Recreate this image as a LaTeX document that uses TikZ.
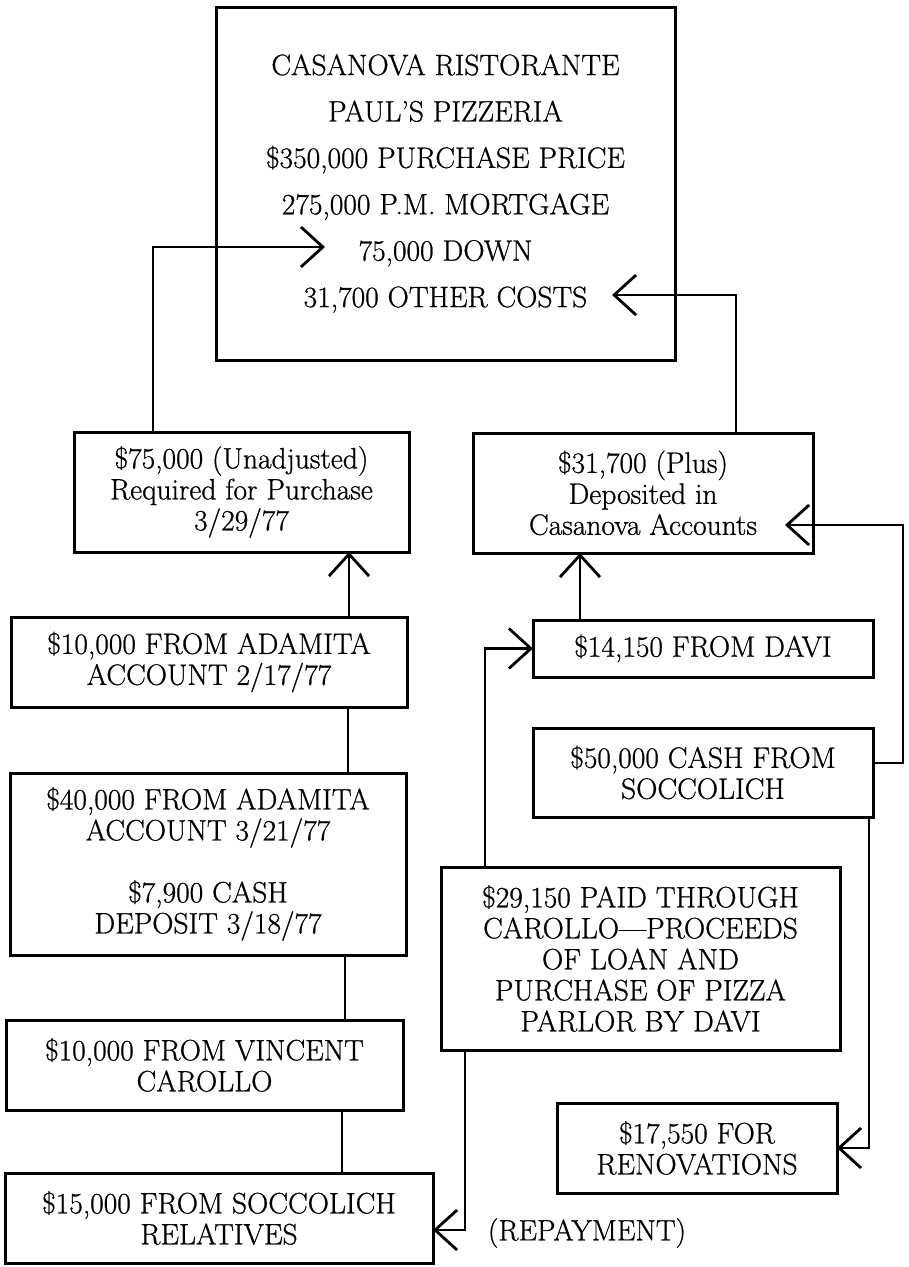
\documentclass[tikz,border=0pt]{standalone}
\usepackage{fontspec}
\setmainfont{Latin Modern Roman}[FakeBold=0.8]
\usetikzlibrary{arrows.meta,calc}
\tikzset{
  box/.style={draw, line width=3pt, inner sep=0pt, outer sep=0pt, align=center,
    font=\fontsize{29.5}{31}\selectfont},
  conn/.style={line width=2.8pt},
  arr/.style={-{Straight Barb[length=22pt,width=40pt]}},
}
\begin{document}
\begin{tikzpicture}[x=1pt,y=-1pt]
\useasboundingbox (0,0) rectangle (909,1267);
% boxes
\node[box, minimum width=459pt, minimum height=353pt, font=\fontsize{29.5}{46.4}\selectfont] (top) at (445.5,183.5)
  {CASANOVA RISTORANTE\\PAUL’S PIZZERIA\\\$350,000 PURCHASE PRICE\\275,000 P.M. MORTGAGE\\75,000 DOWN\\31,700 OTHER COSTS};
\node[box, minimum width=335pt, minimum height=120pt] (A) at (241.5,492)
  {\$75,000 (Unadjusted)\\Required for Purchase\\3/29/77};
\node[box, minimum width=340pt, minimum height=120pt] (B) at (643,493)
  {\$31,700 (Plus)\\Deposited in\\Casanova Accounts};
\node[box, minimum width=396pt, minimum height=90pt] (C) at (209,662)
  {\$10,000 FROM ADAMITA\\ACCOUNT 2/17/77};
\node[box, minimum width=340pt, minimum height=57pt] (D) at (703,648.5)
  {\$14,150 FROM DAVI};
\node[box, minimum width=396pt, minimum height=182pt] (E) at (208,864)
  {\$40,000 FROM ADAMITA\\ACCOUNT 3/21/77\\[31pt]\$7,900 CASH\\DEPOSIT 3/18/77};
\node[box, minimum width=340pt, minimum height=89pt] (F) at (703,772.5)
  {\$50,000 CASH FROM\\SOCCOLICH};
\node[box, minimum width=399pt, minimum height=183pt] (G) at (640.5,958.5)
  {\$29,150 PAID THROUGH\\CAROLLO---PROCEEDS\\OF LOAN AND\\PURCHASE OF PIZZA\\PARLOR BY DAVI};
\node[box, minimum width=397pt, minimum height=90pt] (H) at (204.5,1065)
  {\$10,000 FROM VINCENT\\CAROLLO};
\node[box, minimum width=280pt, minimum height=90pt] (I) at (697,1148)
  {\$17,550 FOR\\RENOVATIONS};
\node[box, minimum width=428pt, minimum height=90pt] (J) at (219,1218)
  {\$15,000 FROM SOCCOLICH\\RELATIVES};
\node[font=\fontsize{29.5}{31}\selectfont, inner sep=0pt] (K) at (587,1233) {(REPAYMENT)};
% free arrow tips inside boxes
\coordinate (tdown) at (325,247);
\coordinate (tother) at (612,295);
\coordinate (tacc) at (785,525);
% connectors
\draw[conn,arr] (153,0 |- A.north) |- (tdown);
\draw[conn,arr] (736,0 |- B.north) |- (tother);
\draw[conn,arr] (349,0 |- C.north) -- (349,0 |- A.south);
\draw[conn] (348,0 |- C.south) -- (348,0 |- E.north);
\draw[conn] (345,0 |- E.south) -- (345,0 |- H.north);
\draw[conn] (342,0 |- H.south) -- (342,0 |- J.north);
\draw[conn,arr] (580,0 |- D.north) -- (580,0 |- B.south);
\draw[conn,arr] (485,0 |- G.north) |- (D.west);
\draw[conn,arr] (F.east |- 0,763) -| (903,525) -- (tacc);
\draw[conn,arr] (869,0 |- F.south) |- (I.east);
\draw[conn,arr] (465,0 |- G.south) |- (J.east |- 0,1230);
\end{tikzpicture}
\end{document}
